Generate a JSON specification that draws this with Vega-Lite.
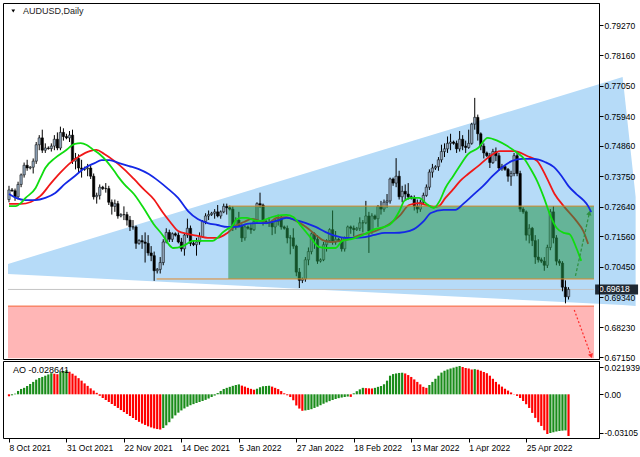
{
"$schema":"https://vega.github.io/schema/vega-lite/v6.json",
"padding":{"left":2,"top":2,"right":0,"bottom":0},
"background":"white",
"spacing":2,
"bounds":"flush",
"config":{"view":{"stroke":"#000","strokeWidth":1},"font":"Liberation Sans",
"axis":{"labelFont":"Liberation Sans","labelFontSize":8.5,"labelColor":"#000","tickColor":"#000","grid":false,"domain":false,"labelOverlap":false,"labelFlush":false,"labelBound":false,"zindex":1}},
"datasets":{
"bars":[
{"i":0,"o":0.729,"h":0.734,"l":0.728,"c":0.7325,"ao":-0.0016,"d":"dn"},
{"i":1,"o":0.7325,"h":0.7332,"l":0.7318,"c":0.7322,"ao":-0.0008,"d":"up"},
{"i":2,"o":0.7322,"h":0.733,"l":0.7285,"c":0.73,"ao":0.0005,"d":"up"},
{"i":3,"o":0.73,"h":0.7355,"l":0.729,"c":0.7345,"ao":0.0027,"d":"up"},
{"i":4,"o":0.7345,"h":0.7385,"l":0.7335,"c":0.738,"ao":0.0043,"d":"up"},
{"i":5,"o":0.738,"h":0.7425,"l":0.737,"c":0.7415,"ao":0.0052,"d":"up"},
{"i":6,"o":0.7415,"h":0.7435,"l":0.7395,"c":0.7405,"ao":0.0067,"d":"up"},
{"i":7,"o":0.7405,"h":0.7412,"l":0.74,"c":0.7408,"ao":0.0083,"d":"up"},
{"i":8,"o":0.7408,"h":0.744,"l":0.7385,"c":0.743,"ao":0.01,"d":"up"},
{"i":9,"o":0.743,"h":0.75,"l":0.742,"c":0.749,"ao":0.0118,"d":"up"},
{"i":10,"o":0.749,"h":0.7525,"l":0.747,"c":0.7515,"ao":0.0131,"d":"up"},
{"i":11,"o":0.7515,"h":0.7545,"l":0.746,"c":0.747,"ao":0.014,"d":"up"},
{"i":12,"o":0.747,"h":0.7495,"l":0.746,"c":0.7478,"ao":0.015,"d":"up"},
{"i":13,"o":0.7478,"h":0.7484,"l":0.7472,"c":0.7476,"ao":0.016,"d":"up"},
{"i":14,"o":0.7476,"h":0.7495,"l":0.7465,"c":0.7485,"ao":0.017,"d":"up"},
{"i":15,"o":0.7485,"h":0.7525,"l":0.747,"c":0.751,"ao":0.0166,"d":"dn"},
{"i":16,"o":0.751,"h":0.7535,"l":0.747,"c":0.7478,"ao":0.0162,"d":"dn"},
{"i":17,"o":0.7478,"h":0.7556,"l":0.747,"c":0.7535,"ao":0.018,"d":"up"},
{"i":18,"o":0.7535,"h":0.755,"l":0.7505,"c":0.752,"ao":0.0188,"d":"up"},
{"i":19,"o":0.752,"h":0.753,"l":0.751,"c":0.7515,"ao":0.0193,"d":"up"},
{"i":20,"o":0.7515,"h":0.754,"l":0.75,"c":0.7525,"ao":0.0182,"d":"dn"},
{"i":21,"o":0.7525,"h":0.7545,"l":0.742,"c":0.743,"ao":0.0166,"d":"dn"},
{"i":22,"o":0.743,"h":0.746,"l":0.74,"c":0.744,"ao":0.015,"d":"dn"},
{"i":23,"o":0.744,"h":0.7455,"l":0.739,"c":0.7405,"ao":0.013,"d":"dn"},
{"i":24,"o":0.7405,"h":0.7435,"l":0.737,"c":0.74,"ao":0.011,"d":"dn"},
{"i":25,"o":0.74,"h":0.741,"l":0.7395,"c":0.7402,"ao":0.0088,"d":"dn"},
{"i":26,"o":0.7402,"h":0.742,"l":0.7375,"c":0.7405,"ao":0.0068,"d":"dn"},
{"i":27,"o":0.7405,"h":0.7415,"l":0.7365,"c":0.7375,"ao":0.0048,"d":"dn"},
{"i":28,"o":0.7375,"h":0.7385,"l":0.729,"c":0.73,"ao":0.003,"d":"dn"},
{"i":29,"o":0.73,"h":0.7315,"l":0.7275,"c":0.7305,"ao":0.0012,"d":"dn"},
{"i":30,"o":0.7305,"h":0.7345,"l":0.729,"c":0.7335,"ao":-0.0012,"d":"dn"},
{"i":31,"o":0.7335,"h":0.734,"l":0.7325,"c":0.733,"ao":-0.003,"d":"dn"},
{"i":32,"o":0.733,"h":0.735,"l":0.7315,"c":0.733,"ao":-0.0046,"d":"dn"},
{"i":33,"o":0.733,"h":0.734,"l":0.727,"c":0.728,"ao":-0.0062,"d":"dn"},
{"i":34,"o":0.728,"h":0.729,"l":0.7235,"c":0.7265,"ao":-0.0078,"d":"dn"},
{"i":35,"o":0.7265,"h":0.729,"l":0.7245,"c":0.7275,"ao":-0.0094,"d":"dn"},
{"i":36,"o":0.7275,"h":0.7285,"l":0.722,"c":0.723,"ao":-0.011,"d":"dn"},
{"i":37,"o":0.723,"h":0.724,"l":0.7225,"c":0.7235,"ao":-0.0127,"d":"dn"},
{"i":38,"o":0.7235,"h":0.7265,"l":0.7215,"c":0.7235,"ao":-0.0143,"d":"dn"},
{"i":39,"o":0.7235,"h":0.7245,"l":0.7195,"c":0.7215,"ao":-0.0159,"d":"dn"},
{"i":40,"o":0.7215,"h":0.723,"l":0.7175,"c":0.719,"ao":-0.0175,"d":"dn"},
{"i":41,"o":0.719,"h":0.7215,"l":0.718,"c":0.719,"ao":-0.0191,"d":"dn"},
{"i":42,"o":0.719,"h":0.7195,"l":0.711,"c":0.713,"ao":-0.0207,"d":"dn"},
{"i":43,"o":0.713,"h":0.7145,"l":0.7125,"c":0.714,"ao":-0.0222,"d":"dn"},
{"i":44,"o":0.714,"h":0.716,"l":0.711,"c":0.7135,"ao":-0.0236,"d":"dn"},
{"i":45,"o":0.7135,"h":0.717,"l":0.706,"c":0.713,"ao":-0.0247,"d":"dn"},
{"i":46,"o":0.713,"h":0.716,"l":0.7085,"c":0.7095,"ao":-0.0258,"d":"dn"},
{"i":47,"o":0.7095,"h":0.712,"l":0.7065,"c":0.7085,"ao":-0.0267,"d":"dn"},
{"i":48,"o":0.7085,"h":0.71,"l":0.6993,"c":0.703,"ao":-0.0275,"d":"dn"},
{"i":49,"o":0.703,"h":0.704,"l":0.702,"c":0.7035,"ao":-0.028,"d":"dn"},
{"i":50,"o":0.7035,"h":0.708,"l":0.702,"c":0.706,"ao":-0.0284,"d":"dn"},
{"i":51,"o":0.706,"h":0.7145,"l":0.705,"c":0.7135,"ao":-0.0272,"d":"up"},
{"i":52,"o":0.7135,"h":0.7185,"l":0.713,"c":0.717,"ao":-0.025,"d":"up"},
{"i":53,"o":0.717,"h":0.718,"l":0.7135,"c":0.7145,"ao":-0.0225,"d":"up"},
{"i":54,"o":0.7145,"h":0.717,"l":0.7135,"c":0.7165,"ao":-0.0195,"d":"up"},
{"i":55,"o":0.7165,"h":0.717,"l":0.7155,"c":0.716,"ao":-0.017,"d":"up"},
{"i":56,"o":0.716,"h":0.717,"l":0.713,"c":0.7135,"ao":-0.0148,"d":"up"},
{"i":57,"o":0.7135,"h":0.715,"l":0.71,"c":0.711,"ao":-0.013,"d":"up"},
{"i":58,"o":0.711,"h":0.7165,"l":0.7085,"c":0.716,"ao":-0.0114,"d":"up"},
{"i":59,"o":0.716,"h":0.722,"l":0.715,"c":0.7185,"ao":-0.01,"d":"up"},
{"i":60,"o":0.7185,"h":0.7195,"l":0.712,"c":0.713,"ao":-0.0088,"d":"up"},
{"i":61,"o":0.713,"h":0.714,"l":0.712,"c":0.7125,"ao":-0.0079,"d":"up"},
{"i":62,"o":0.7125,"h":0.715,"l":0.7085,"c":0.7135,"ao":-0.007,"d":"up"},
{"i":63,"o":0.7135,"h":0.717,"l":0.7125,"c":0.7155,"ao":-0.0062,"d":"up"},
{"i":64,"o":0.7155,"h":0.7215,"l":0.715,"c":0.721,"ao":-0.0054,"d":"up"},
{"i":65,"o":0.721,"h":0.724,"l":0.72,"c":0.723,"ao":-0.0045,"d":"up"},
{"i":66,"o":0.723,"h":0.725,"l":0.7215,"c":0.7235,"ao":-0.0034,"d":"up"},
{"i":67,"o":0.7235,"h":0.7245,"l":0.723,"c":0.724,"ao":-0.0022,"d":"up"},
{"i":68,"o":0.724,"h":0.7255,"l":0.722,"c":0.7245,"ao":-0.001,"d":"up"},
{"i":69,"o":0.7245,"h":0.727,"l":0.7225,"c":0.723,"ao":0.001,"d":"up"},
{"i":70,"o":0.723,"h":0.725,"l":0.722,"c":0.7245,"ao":0.0027,"d":"up"},
{"i":71,"o":0.7245,"h":0.7275,"l":0.724,"c":0.7265,"ao":0.0043,"d":"up"},
{"i":72,"o":0.7265,"h":0.7275,"l":0.7235,"c":0.726,"ao":0.0052,"d":"up"},
{"i":73,"o":0.726,"h":0.7268,"l":0.725,"c":0.7255,"ao":0.006,"d":"up"},
{"i":74,"o":0.7255,"h":0.7265,"l":0.7175,"c":0.7195,"ao":0.0068,"d":"up"},
{"i":75,"o":0.7195,"h":0.7225,"l":0.718,"c":0.7215,"ao":0.0075,"d":"up"},
{"i":76,"o":0.7215,"h":0.7245,"l":0.719,"c":0.7195,"ao":0.008,"d":"up"},
{"i":77,"o":0.7195,"h":0.72,"l":0.7135,"c":0.715,"ao":0.007,"d":"dn"},
{"i":78,"o":0.715,"h":0.72,"l":0.714,"c":0.719,"ao":0.0062,"d":"dn"},
{"i":79,"o":0.719,"h":0.7195,"l":0.718,"c":0.7185,"ao":0.0052,"d":"dn"},
{"i":80,"o":0.7185,"h":0.72,"l":0.7165,"c":0.718,"ao":0.0044,"d":"dn"},
{"i":81,"o":0.718,"h":0.722,"l":0.7175,"c":0.721,"ao":0.0037,"d":"dn"},
{"i":82,"o":0.721,"h":0.728,"l":0.7205,"c":0.7275,"ao":0.0045,"d":"up"},
{"i":83,"o":0.7275,"h":0.7315,"l":0.726,"c":0.727,"ao":0.0056,"d":"up"},
{"i":84,"o":0.727,"h":0.7275,"l":0.7195,"c":0.721,"ao":0.0065,"d":"up"},
{"i":85,"o":0.721,"h":0.7215,"l":0.72,"c":0.7205,"ao":0.0067,"d":"up"},
{"i":86,"o":0.7205,"h":0.7225,"l":0.719,"c":0.7205,"ao":0.0069,"d":"up"},
{"i":87,"o":0.7205,"h":0.7215,"l":0.716,"c":0.719,"ao":0.0062,"d":"dn"},
{"i":88,"o":0.719,"h":0.722,"l":0.7165,"c":0.721,"ao":0.0052,"d":"dn"},
{"i":89,"o":0.721,"h":0.7235,"l":0.7195,"c":0.722,"ao":0.0042,"d":"dn"},
{"i":90,"o":0.722,"h":0.723,"l":0.718,"c":0.719,"ao":0.0026,"d":"dn"},
{"i":91,"o":0.719,"h":0.7195,"l":0.718,"c":0.7185,"ao":0.0008,"d":"dn"},
{"i":92,"o":0.7185,"h":0.7195,"l":0.713,"c":0.715,"ao":-0.0008,"d":"dn"},
{"i":93,"o":0.715,"h":0.716,"l":0.709,"c":0.715,"ao":-0.0022,"d":"dn"},
{"i":94,"o":0.715,"h":0.7185,"l":0.711,"c":0.712,"ao":-0.0048,"d":"dn"},
{"i":95,"o":0.712,"h":0.7125,"l":0.701,"c":0.7025,"ao":-0.009,"d":"dn"},
{"i":96,"o":0.7025,"h":0.704,"l":0.6967,"c":0.6995,"ao":-0.0115,"d":"dn"},
{"i":97,"o":0.6995,"h":0.7005,"l":0.6985,"c":0.7,"ao":-0.0133,"d":"dn"},
{"i":98,"o":0.7,"h":0.708,"l":0.699,"c":0.707,"ao":-0.013,"d":"up"},
{"i":99,"o":0.707,"h":0.7115,"l":0.705,"c":0.71,"ao":-0.0126,"d":"up"},
{"i":100,"o":0.71,"h":0.717,"l":0.709,"c":0.7165,"ao":-0.012,"d":"up"},
{"i":101,"o":0.7165,"h":0.717,"l":0.711,"c":0.7145,"ao":-0.011,"d":"up"},
{"i":102,"o":0.7145,"h":0.716,"l":0.7055,"c":0.7065,"ao":-0.01,"d":"up"},
{"i":103,"o":0.7065,"h":0.7075,"l":0.706,"c":0.707,"ao":-0.0088,"d":"up"},
{"i":104,"o":0.707,"h":0.7135,"l":0.7065,"c":0.7125,"ao":-0.0076,"d":"up"},
{"i":105,"o":0.7125,"h":0.7145,"l":0.71,"c":0.714,"ao":-0.0065,"d":"up"},
{"i":106,"o":0.714,"h":0.7185,"l":0.7135,"c":0.718,"ao":-0.0055,"d":"up"},
{"i":107,"o":0.718,"h":0.725,"l":0.7125,"c":0.7135,"ao":-0.0046,"d":"up"},
{"i":108,"o":0.7135,"h":0.7175,"l":0.7125,"c":0.7145,"ao":-0.0038,"d":"up"},
{"i":109,"o":0.7145,"h":0.715,"l":0.7135,"c":0.714,"ao":-0.0031,"d":"up"},
{"i":110,"o":0.714,"h":0.715,"l":0.71,"c":0.711,"ao":-0.0026,"d":"up"},
{"i":111,"o":0.711,"h":0.7155,"l":0.71,"c":0.715,"ao":-0.0022,"d":"up"},
{"i":112,"o":0.715,"h":0.7195,"l":0.7145,"c":0.719,"ao":-0.0018,"d":"up"},
{"i":113,"o":0.719,"h":0.7195,"l":0.7165,"c":0.7185,"ao":-0.0021,"d":"dn"},
{"i":114,"o":0.7185,"h":0.7195,"l":0.7155,"c":0.718,"ao":0.0008,"d":"up"},
{"i":115,"o":0.718,"h":0.719,"l":0.7175,"c":0.7185,"ao":0.0025,"d":"up"},
{"i":116,"o":0.7185,"h":0.7225,"l":0.7175,"c":0.7205,"ao":0.004,"d":"up"},
{"i":117,"o":0.7205,"h":0.7215,"l":0.717,"c":0.7205,"ao":0.0052,"d":"up"},
{"i":118,"o":0.7205,"h":0.7285,"l":0.72,"c":0.723,"ao":0.005,"d":"dn"},
{"i":119,"o":0.723,"h":0.7245,"l":0.7095,"c":0.7175,"ao":0.0048,"d":"dn"},
{"i":120,"o":0.7175,"h":0.724,"l":0.7165,"c":0.723,"ao":0.0047,"d":"dn"},
{"i":121,"o":0.723,"h":0.7235,"l":0.7215,"c":0.722,"ao":0.0052,"d":"up"},
{"i":122,"o":0.722,"h":0.727,"l":0.719,"c":0.7265,"ao":0.006,"d":"up"},
{"i":123,"o":0.7265,"h":0.7285,"l":0.7235,"c":0.7255,"ao":0.0067,"d":"up"},
{"i":124,"o":0.7255,"h":0.729,"l":0.7245,"c":0.728,"ao":0.0081,"d":"up"},
{"i":125,"o":0.728,"h":0.731,"l":0.726,"c":0.7285,"ao":0.011,"d":"up"},
{"i":126,"o":0.7285,"h":0.737,"l":0.7275,"c":0.7365,"ao":0.015,"d":"up"},
{"i":127,"o":0.7365,"h":0.737,"l":0.734,"c":0.735,"ao":0.0163,"d":"up"},
{"i":128,"o":0.735,"h":0.7441,"l":0.7335,"c":0.7375,"ao":0.0168,"d":"up"},
{"i":129,"o":0.7375,"h":0.7395,"l":0.729,"c":0.73,"ao":0.0172,"d":"up"},
{"i":130,"o":0.73,"h":0.734,"l":0.728,"c":0.732,"ao":0.0174,"d":"up"},
{"i":131,"o":0.732,"h":0.7345,"l":0.7285,"c":0.731,"ao":0.0168,"d":"dn"},
{"i":132,"o":0.731,"h":0.735,"l":0.729,"c":0.73,"ao":0.0155,"d":"dn"},
{"i":133,"o":0.73,"h":0.7305,"l":0.729,"c":0.7295,"ao":0.014,"d":"dn"},
{"i":134,"o":0.7295,"h":0.7305,"l":0.725,"c":0.7265,"ao":0.012,"d":"dn"},
{"i":135,"o":0.7265,"h":0.729,"l":0.724,"c":0.7255,"ao":0.01,"d":"dn"},
{"i":136,"o":0.7255,"h":0.729,"l":0.7245,"c":0.728,"ao":0.008,"d":"dn"},
{"i":137,"o":0.728,"h":0.7315,"l":0.727,"c":0.7305,"ao":0.006,"d":"dn"},
{"i":138,"o":0.7305,"h":0.7345,"l":0.73,"c":0.7335,"ao":0.0052,"d":"dn"},
{"i":139,"o":0.7335,"h":0.74,"l":0.7325,"c":0.739,"ao":0.0075,"d":"up"},
{"i":140,"o":0.739,"h":0.742,"l":0.737,"c":0.7405,"ao":0.01,"d":"up"},
{"i":141,"o":0.7405,"h":0.7415,"l":0.7398,"c":0.741,"ao":0.0125,"d":"up"},
{"i":142,"o":0.741,"h":0.7445,"l":0.7395,"c":0.7435,"ao":0.015,"d":"up"},
{"i":143,"o":0.7435,"h":0.749,"l":0.7425,"c":0.7465,"ao":0.0175,"d":"up"},
{"i":144,"o":0.7465,"h":0.7495,"l":0.7445,"c":0.7475,"ao":0.019,"d":"up"},
{"i":145,"o":0.7475,"h":0.752,"l":0.746,"c":0.7495,"ao":0.02,"d":"up"},
{"i":146,"o":0.7495,"h":0.753,"l":0.747,"c":0.75,"ao":0.0208,"d":"up"},
{"i":147,"o":0.75,"h":0.7505,"l":0.749,"c":0.7495,"ao":0.0215,"d":"up"},
{"i":148,"o":0.7495,"h":0.7505,"l":0.746,"c":0.7475,"ao":0.0222,"d":"up"},
{"i":149,"o":0.7475,"h":0.754,"l":0.7465,"c":0.751,"ao":0.0228,"d":"up"},
{"i":150,"o":0.751,"h":0.7525,"l":0.747,"c":0.7485,"ao":0.022,"d":"dn"},
{"i":151,"o":0.7485,"h":0.7505,"l":0.746,"c":0.748,"ao":0.0212,"d":"dn"},
{"i":152,"o":0.748,"h":0.7545,"l":0.7475,"c":0.7495,"ao":0.0208,"d":"dn"},
{"i":153,"o":0.7495,"h":0.757,"l":0.749,"c":0.7565,"ao":0.02,"d":"dn"},
{"i":154,"o":0.7565,"h":0.7661,"l":0.7545,"c":0.759,"ao":0.0203,"d":"up"},
{"i":155,"o":0.759,"h":0.76,"l":0.7505,"c":0.753,"ao":0.0198,"d":"dn"},
{"i":156,"o":0.753,"h":0.7535,"l":0.747,"c":0.7485,"ao":0.019,"d":"dn"},
{"i":157,"o":0.7485,"h":0.7495,"l":0.744,"c":0.746,"ao":0.018,"d":"dn"},
{"i":158,"o":0.746,"h":0.7465,"l":0.7445,"c":0.745,"ao":0.017,"d":"dn"},
{"i":159,"o":0.745,"h":0.746,"l":0.7405,"c":0.7425,"ao":0.015,"d":"dn"},
{"i":160,"o":0.7425,"h":0.7475,"l":0.742,"c":0.7465,"ao":0.0125,"d":"dn"},
{"i":161,"o":0.7465,"h":0.748,"l":0.743,"c":0.745,"ao":0.01,"d":"dn"},
{"i":162,"o":0.745,"h":0.746,"l":0.7395,"c":0.7405,"ao":0.008,"d":"dn"},
{"i":163,"o":0.7405,"h":0.742,"l":0.7395,"c":0.741,"ao":0.0062,"d":"dn"},
{"i":164,"o":0.741,"h":0.7415,"l":0.7395,"c":0.74,"ao":0.0045,"d":"dn"},
{"i":165,"o":0.74,"h":0.7405,"l":0.7355,"c":0.7375,"ao":0.003,"d":"dn"},
{"i":166,"o":0.7375,"h":0.7395,"l":0.734,"c":0.7385,"ao":0.0015,"d":"dn"},
{"i":167,"o":0.7385,"h":0.746,"l":0.7375,"c":0.745,"ao":0.0003,"d":"dn"},
{"i":168,"o":0.745,"h":0.746,"l":0.7375,"c":0.7385,"ao":-0.0013,"d":"dn"},
{"i":169,"o":0.7385,"h":0.7395,"l":0.7245,"c":0.7255,"ao":-0.003,"d":"dn"},
{"i":170,"o":0.7255,"h":0.7262,"l":0.7238,"c":0.7245,"ao":-0.0054,"d":"dn"},
{"i":171,"o":0.7245,"h":0.725,"l":0.714,"c":0.716,"ao":-0.008,"d":"dn"},
{"i":172,"o":0.716,"h":0.72,"l":0.713,"c":0.7185,"ao":-0.011,"d":"dn"},
{"i":173,"o":0.7185,"h":0.719,"l":0.712,"c":0.714,"ao":-0.015,"d":"dn"},
{"i":174,"o":0.714,"h":0.716,"l":0.7055,"c":0.708,"ao":-0.019,"d":"dn"},
{"i":175,"o":0.708,"h":0.7145,"l":0.706,"c":0.707,"ao":-0.0225,"d":"dn"},
{"i":176,"o":0.707,"h":0.7078,"l":0.7058,"c":0.7065,"ao":-0.0255,"d":"dn"},
{"i":177,"o":0.7065,"h":0.708,"l":0.703,"c":0.705,"ao":-0.029,"d":"dn"},
{"i":178,"o":0.705,"h":0.7125,"l":0.704,"c":0.7115,"ao":-0.032,"d":"dn"},
{"i":179,"o":0.7115,"h":0.7255,"l":0.7105,"c":0.7245,"ao":-0.0312,"d":"up"},
{"i":180,"o":0.7245,"h":0.7266,"l":0.713,"c":0.715,"ao":-0.0306,"d":"up"},
{"i":181,"o":0.715,"h":0.716,"l":0.705,"c":0.7065,"ao":-0.03,"d":"up"},
{"i":182,"o":0.7065,"h":0.7072,"l":0.7048,"c":0.7058,"ao":-0.0296,"d":"up"},
{"i":183,"o":0.7058,"h":0.7065,"l":0.6955,"c":0.697,"ao":-0.0293,"d":"up"},
{"i":184,"o":0.697,"h":0.6995,"l":0.6911,"c":0.6935,"ao":-0.0291,"d":"up"},
{"i":185,"o":0.6935,"h":0.697,"l":0.6925,"c":0.6962,"ao":-0.0336,"d":"dn"}
],
"ma":[
{"k":"b","i":0,"p":0.731},{"k":"b","i":2.3,"p":0.7296},{"k":"b","i":5.5,"p":0.7288},{"k":"b","i":8.8,"p":0.7288},{"k":"b","i":12,"p":0.7296},{"k":"b","i":15.3,"p":0.7314},{"k":"b","i":18.5,"p":0.7347},{"k":"b","i":21.8,"p":0.7376},{"k":"b","i":25,"p":0.7405},{"k":"b","i":28.3,"p":0.7423},{"k":"b","i":30.6,"p":0.7434},{"k":"b","i":33.2,"p":0.7434},{"k":"b","i":36.4,"p":0.7423},{"k":"b","i":39.7,"p":0.7412},{"k":"b","i":42.9,"p":0.7401},{"k":"b","i":46.2,"p":0.7383},{"k":"b","i":49.4,"p":0.7358},{"k":"b","i":52.7,"p":0.7328},{"k":"b","i":55.9,"p":0.7296},{"k":"b","i":59.2,"p":0.7248},{"k":"b","i":62.4,"p":0.7219},{"k":"b","i":65.7,"p":0.7204},{"k":"b","i":68.9,"p":0.7197},{"k":"b","i":72.2,"p":0.719},{"k":"b","i":75.4,"p":0.719},{"k":"b","i":78.7,"p":0.7201},{"k":"b","i":81.9,"p":0.7204},{"k":"b","i":85.2,"p":0.7204},{"k":"b","i":88.4,"p":0.7212},{"k":"b","i":91.7,"p":0.7223},{"k":"b","i":94.9,"p":0.7215},{"k":"b","i":98.2,"p":0.7204},{"k":"b","i":101.4,"p":0.719},{"k":"b","i":104.7,"p":0.7171},{"k":"b","i":107.9,"p":0.7157},{"k":"b","i":111.2,"p":0.715},{"k":"b","i":114.4,"p":0.715},{"k":"b","i":117.7,"p":0.7153},{"k":"b","i":120.9,"p":0.7161},{"k":"b","i":124.2,"p":0.7168},{"k":"b","i":127.4,"p":0.7168},{"k":"b","i":130.7,"p":0.7171},{"k":"b","i":133.9,"p":0.7182},{"k":"b","i":137.2,"p":0.7212},{"k":"b","i":139.5,"p":0.7241},{"k":"b","i":143.7,"p":0.7252},{"k":"b","i":147.6,"p":0.7252},{"k":"b","i":150.2,"p":0.7274},{"k":"b","i":153.4,"p":0.7306},{"k":"b","i":156.7,"p":0.7339},{"k":"b","i":159.9,"p":0.7376},{"k":"b","i":163.2,"p":0.7409},{"k":"b","i":166.4,"p":0.7431},{"k":"b","i":169.7,"p":0.7438},{"k":"b","i":173.6,"p":0.7438},{"k":"b","i":177.2,"p":0.7427},{"k":"b","i":180.1,"p":0.7409},{"k":"b","i":182.7,"p":0.7376},{"k":"b","i":185,"p":0.7339},{"k":"b","i":187.6,"p":0.731},{"k":"b","i":189.9,"p":0.7288},{"k":"b","i":191.5,"p":0.7266},{"k":"b","i":192.5,"p":0.7244},
{"k":"r","i":0,"p":0.7274},{"k":"r","i":3.9,"p":0.7274},{"k":"r","i":7.2,"p":0.7281},{"k":"r","i":10.4,"p":0.7303},{"k":"r","i":13.7,"p":0.7347},{"k":"r","i":16.9,"p":0.7387},{"k":"r","i":20.2,"p":0.7423},{"k":"r","i":23.4,"p":0.7449},{"k":"r","i":26.7,"p":0.7467},{"k":"r","i":28.9,"p":0.7471},{"k":"r","i":31.5,"p":0.7456},{"k":"r","i":34.8,"p":0.7431},{"k":"r","i":38,"p":0.7401},{"k":"r","i":41.3,"p":0.7365},{"k":"r","i":44.5,"p":0.7328},{"k":"r","i":47.8,"p":0.7292},{"k":"r","i":51,"p":0.7241},{"k":"r","i":53.3,"p":0.7208},{"k":"r","i":55.9,"p":0.7175},{"k":"r","i":59.2,"p":0.7164},{"k":"r","i":62.4,"p":0.7157},{"k":"r","i":65.7,"p":0.715},{"k":"r","i":68.9,"p":0.715},{"k":"r","i":72.2,"p":0.7168},{"k":"r","i":74.8,"p":0.7193},{"k":"r","i":77.7,"p":0.7208},{"k":"r","i":80.3,"p":0.7219},{"k":"r","i":82.9,"p":0.7212},{"k":"r","i":85.8,"p":0.7204},{"k":"r","i":88.4,"p":0.7223},{"k":"r","i":91.7,"p":0.7226},{"k":"r","i":94.9,"p":0.7212},{"k":"r","i":98.2,"p":0.719},{"k":"r","i":101.4,"p":0.7161},{"k":"r","i":103.7,"p":0.7142},{"k":"r","i":106.3,"p":0.7135},{"k":"r","i":109.6,"p":0.7139},{"k":"r","i":112.8,"p":0.7146},{"k":"r","i":116.1,"p":0.7161},{"k":"r","i":119.3,"p":0.7168},{"k":"r","i":122.6,"p":0.7182},{"k":"r","i":125.8,"p":0.7201},{"k":"r","i":129.1,"p":0.723},{"k":"r","i":132.3,"p":0.727},{"k":"r","i":135.6,"p":0.7277},{"k":"r","i":137.8,"p":0.727},{"k":"r","i":140.4,"p":0.7263},{"k":"r","i":142.1,"p":0.7266},{"k":"r","i":144.3,"p":0.7296},{"k":"r","i":146.9,"p":0.7328},{"k":"r","i":149.2,"p":0.7358},{"k":"r","i":151.8,"p":0.7383},{"k":"r","i":155.1,"p":0.7412},{"k":"r","i":158.3,"p":0.7442},{"k":"r","i":162.5,"p":0.7467},{"k":"r","i":167.1,"p":0.7467},{"k":"r","i":171.3,"p":0.7449},{"k":"r","i":174.6,"p":0.7431},{"k":"r","i":177.8,"p":0.7369},{"k":"r","i":180.4,"p":0.731},{"k":"r","i":183.4,"p":0.7266},{"k":"r","i":187.6,"p":0.7212},{"k":"r","i":189.9,"p":0.7175},{"k":"r","i":191.5,"p":0.7128},
{"k":"g","i":0,"p":0.7266},{"k":"g","i":2.3,"p":0.7266},{"k":"g","i":3.9,"p":0.7277},{"k":"g","i":5.5,"p":0.7296},{"k":"g","i":8.8,"p":0.7332},{"k":"g","i":10.4,"p":0.7369},{"k":"g","i":12,"p":0.7405},{"k":"g","i":15.3,"p":0.7442},{"k":"g","i":18.5,"p":0.7467},{"k":"g","i":21.8,"p":0.7493},{"k":"g","i":23.7,"p":0.7496},{"k":"g","i":25.7,"p":0.7489},{"k":"g","i":27.6,"p":0.7474},{"k":"g","i":29.9,"p":0.7456},{"k":"g","i":32.2,"p":0.7431},{"k":"g","i":34.8,"p":0.7394},{"k":"g","i":36.4,"p":0.7369},{"k":"g","i":38,"p":0.7347},{"k":"g","i":41.3,"p":0.731},{"k":"g","i":44.5,"p":0.7259},{"k":"g","i":47.8,"p":0.7201},{"k":"g","i":51,"p":0.7157},{"k":"g","i":52.7,"p":0.7128},{"k":"g","i":54.3,"p":0.7113},{"k":"g","i":57.5,"p":0.712},{"k":"g","i":60.8,"p":0.7139},{"k":"g","i":64,"p":0.7139},{"k":"g","i":67.3,"p":0.7139},{"k":"g","i":68.9,"p":0.715},{"k":"g","i":70.5,"p":0.7168},{"k":"g","i":72.2,"p":0.7182},{"k":"g","i":73.8,"p":0.7193},{"k":"g","i":75.4,"p":0.7219},{"k":"g","i":77,"p":0.7223},{"k":"g","i":78.7,"p":0.7223},{"k":"g","i":81.9,"p":0.7212},{"k":"g","i":83.6,"p":0.7212},{"k":"g","i":85.2,"p":0.7219},{"k":"g","i":88.4,"p":0.723},{"k":"g","i":91.7,"p":0.7234},{"k":"g","i":94,"p":0.7226},{"k":"g","i":96.6,"p":0.7193},{"k":"g","i":99.8,"p":0.715},{"k":"g","i":102.4,"p":0.7117},{"k":"g","i":104.7,"p":0.7113},{"k":"g","i":107.9,"p":0.7113},{"k":"g","i":110.2,"p":0.7139},{"k":"g","i":113.5,"p":0.7146},{"k":"g","i":117.7,"p":0.7164},{"k":"g","i":120.9,"p":0.7182},{"k":"g","i":124.2,"p":0.719},{"k":"g","i":126.5,"p":0.7204},{"k":"g","i":129.1,"p":0.7248},{"k":"g","i":130.7,"p":0.7285},{"k":"g","i":133,"p":0.7296},{"k":"g","i":135.6,"p":0.7296},{"k":"g","i":138.1,"p":0.7274},{"k":"g","i":140.4,"p":0.7259},{"k":"g","i":142.4,"p":0.7285},{"k":"g","i":144.3,"p":0.7332},{"k":"g","i":146.9,"p":0.7376},{"k":"g","i":148.6,"p":0.7405},{"k":"g","i":151.8,"p":0.7456},{"k":"g","i":155.1,"p":0.7478},{"k":"g","i":158.3,"p":0.7515},{"k":"g","i":161.6,"p":0.7504},{"k":"g","i":164.8,"p":0.7485},{"k":"g","i":168.1,"p":0.746},{"k":"g","i":170.4,"p":0.7438},{"k":"g","i":172.3,"p":0.7405},{"k":"g","i":174.6,"p":0.7358},{"k":"g","i":176.9,"p":0.7296},{"k":"g","i":178.8,"p":0.7237},{"k":"g","i":181.1,"p":0.7186},{"k":"g","i":183.4,"p":0.7168},{"k":"g","i":185.3,"p":0.7164},{"k":"g","i":187.6,"p":0.7113},{"k":"g","i":189.2,"p":0.7066}
],
"wedge":[{"i":-0.33,"top":0.7055,"bot":0.7018},{"i":202.9,"top":0.7737,"bot":0.6905},{"i":207.2,"top":0.7299,"bot":0.6901}],
"arrows":[{"k":"g","i":187.3,"p":0.7011,"end":false},{"k":"g","i":191.9,"p":0.7241,"end":true},{"k":"r","i":186.9,"p":0.6887,"end":false},{"k":"r","i":192.5,"p":0.6719,"end":true}]
},
"vconcat":[
{"width":596,"height":356,
"resolve":{"axis":{"x":"independent","y":"independent"}},
"layer":[
{"data":{"values":[{}]},"mark":{"type":"rect","color":"#ffb6b6"},
 "encoding":{"x":{"datum":-0.33,"axis":null},"x2":{"datum":193.43},"y":{"datum":0.6901,"axis":null},"y2":{"datum":0.6711}}},
{"data":{"values":[{}]},"mark":{"type":"rule","color":"#f5673a","strokeWidth":1},
 "encoding":{"x":{"datum":-0.33,"axis":null},"x2":{"datum":193.43},"y":{"datum":0.6901,"axis":null}}},
{"data":{"name":"wedge"},"mark":{"type":"area","color":"#b6dbf8","clip":false,"opacity":1},
 "encoding":{"x":{"field":"i","type":"quantitative","axis":null},"y":{"field":"top","type":"quantitative","axis":null},"y2":{"field":"bot"}}},
{"data":{"values":[{}]},"mark":{"type":"rule","color":"#c4c4c4","strokeWidth":1},
 "encoding":{"x":{"datum":-0.33,"axis":null},"x2":{"datum":193.43},"y":{"datum":0.69618,"axis":null}}},
{"data":{"name":"bars"},"mark":{"type":"rule","color":"#000","strokeWidth":1},
 "encoding":{"x":{"field":"i","type":"quantitative","scale":{"domain":[-0.33,193.43],"nice":false,"zero":false},"axis":null},
  "y":{"field":"l","type":"quantitative","scale":{"domain":[0.67079,0.80073],"nice":false,"zero":false},
   "axis":{"orient":"right","title":null,"zindex":2,"values":[0.7927,0.7816,0.7705,0.7594,0.7486,0.7375,0.7264,0.7156,0.7045,0.6934,0.6823,0.6715],"format":".5f","tickSize":4,"labelPadding":1,"domain":true,"domainColor":"#000"}},
  "y2":{"field":"h"}}},
{"data":{"name":"bars"},"mark":{"type":"bar","width":2.4,"stroke":"#000","strokeWidth":0.5},
 "encoding":{"x":{"field":"i","type":"quantitative","axis":null},"y":{"field":"o","type":"quantitative","axis":null},"y2":{"field":"c"},
  "fill":{"condition":{"test":"datum.c >= datum.o","value":"#8fa3b8"},"value":"#000"}}},
{"data":{"name":"ma"},"transform":[{"filter":"datum.k == 'r'"}],"mark":{"type":"line","color":"#f01818","strokeWidth":1.8,"interpolate":"monotone"},
 "encoding":{"x":{"field":"i","type":"quantitative","axis":null},"y":{"field":"p","type":"quantitative","axis":null}}},
{"data":{"values":[{}]},"mark":{"type":"rect","color":"#239449","opacity":0.55},
 "encoding":{"x":{"datum":72.5,"axis":null},"x2":{"datum":193.43},"y":{"datum":0.7266,"axis":null},"y2":{"datum":0.7}}},
{"data":{"values":[{}]},"mark":{"type":"rule","color":"#d4882c","strokeWidth":1},
 "encoding":{"x":{"datum":72.5,"axis":null},"x2":{"datum":193.43},"y":{"datum":0.7266,"axis":null}}},
{"data":{"values":[{}]},"mark":{"type":"rule","color":"#e0892c","strokeWidth":1},
 "encoding":{"x":{"datum":48.8,"axis":null},"x2":{"datum":193.43},"y":{"datum":0.7,"axis":null}}},
{"data":{"name":"ma"},"transform":[{"filter":"datum.k == 'b'"}],"mark":{"type":"line","color":"#1428e6","strokeWidth":1.8,"interpolate":"monotone"},
 "encoding":{"x":{"field":"i","type":"quantitative","axis":null},"y":{"field":"p","type":"quantitative","axis":null}}},
{"data":{"name":"ma"},"transform":[{"filter":"datum.k == 'g'"}],"mark":{"type":"line","color":"#10dc10","strokeWidth":1.8,"interpolate":"monotone"},
 "encoding":{"x":{"field":"i","type":"quantitative","axis":null},"y":{"field":"p","type":"quantitative","axis":null}}},
{"data":{"name":"arrows"},"transform":[{"filter":"datum.k == 'g'"}],"mark":{"type":"line","color":"#2f8f3f","strokeWidth":1.2,"strokeDash":[3,2]},
 "encoding":{"x":{"field":"i","type":"quantitative","axis":null},"y":{"field":"p","type":"quantitative","axis":null}}},
{"data":{"name":"arrows"},"transform":[{"filter":"datum.k == 'g' && datum.end"}],"mark":{"type":"point","shape":"triangle-up","filled":true,"color":"#2f8f3f","size":28,"angle":14,"opacity":1},
 "encoding":{"x":{"field":"i","type":"quantitative","axis":null},"y":{"field":"p","type":"quantitative","axis":null}}},
{"data":{"name":"arrows"},"transform":[{"filter":"datum.k == 'r'"}],"mark":{"type":"line","color":"#ff2a2a","strokeWidth":1.2,"strokeDash":[2,2]},
 "encoding":{"x":{"field":"i","type":"quantitative","axis":null},"y":{"field":"p","type":"quantitative","axis":null}}},
{"data":{"name":"arrows"},"transform":[{"filter":"datum.k == 'r' && datum.end"}],"mark":{"type":"point","shape":"triangle-down","filled":true,"color":"#ff2a2a","size":28,"angle":340,"opacity":1},
 "encoding":{"x":{"field":"i","type":"quantitative","axis":null},"y":{"field":"p","type":"quantitative","axis":null}}},
{"data":{"values":[{}]},"mark":{"type":"point","shape":"triangle-down","filled":true,"color":"#000","size":14,"opacity":1},
 "encoding":{"x":{"datum":1.4,"axis":null},"y":{"datum":0.79781,"axis":null}}},
{"data":{"values":[{}]},"mark":{"type":"text","text":"AUDUSD,Daily","align":"left","baseline":"middle","fontSize":9,"color":"#222"},
 "encoding":{"x":{"datum":4.6,"axis":null},"y":{"datum":0.79781,"axis":null}}},
{"data":{"values":[{}]},"mark":{"type":"rect","color":"#1e2833","clip":false},
 "encoding":{"x":{"datum":193.8,"axis":null},"x2":{"datum":208},"y":{"datum":0.69798,"axis":null},"y2":{"datum":0.69433}}},
{"data":{"values":[{}]},"mark":{"type":"text","text":"0.69618","align":"left","baseline":"middle","fontSize":8.5,"color":"#fff","clip":false},
 "encoding":{"x":{"datum":195.1,"axis":null},"y":{"datum":0.69618,"axis":null}}}
]},
{"width":596,"height":77,
"resolve":{"axis":{"x":"independent","y":"independent"}},
"layer":[
{"data":{"name":"bars"},"mark":{"type":"bar","width":2.2},
 "encoding":{"x":{"field":"i","type":"quantitative","scale":{"domain":[-0.33,193.43],"nice":false,"zero":false},
   "axis":{"title":null,"zindex":2,"values":[0,19,38,57,76,95,114,133,152,171],"labelExpr":"['8 Oct 2021','31 Oct 2021','22 Nov 2021','14 Dec 2021','5 Jan 2022','27 Jan 2022','18 Feb 2022','13 Mar 2022','1 Apr 2022','25 Apr 2022'][round(datum.value/19)]","labelAlign":"left","labelBaseline":"top","tickSize":4,"labelPadding":1}},
  "y":{"field":"ao","type":"quantitative","scale":{"domain":[-0.03522,0.02684],"nice":false,"zero":false},
   "axis":{"orient":"right","title":null,"zindex":2,"values":[0.021939,0,-0.03105],"labelExpr":"datum.value > 0.01 ? '0.021939' : (datum.value < -0.01 ? '-0.03105' : '0.00')","tickSize":4,"labelPadding":1,"domain":true,"domainColor":"#000"}},
  "y2":{"datum":0},
  "color":{"field":"d","type":"nominal","scale":{"domain":["up","dn"],"range":["#1a8c1a","#ff0000"]},"legend":null}}},
{"data":{"values":[{}]},"mark":{"type":"text","text":"AO -0.028641","align":"left","baseline":"middle","fontSize":9,"color":"#000"},
 "encoding":{"x":{"datum":1.3,"axis":null},"y":{"datum":0.0196,"axis":null}}}
]}
]
}
